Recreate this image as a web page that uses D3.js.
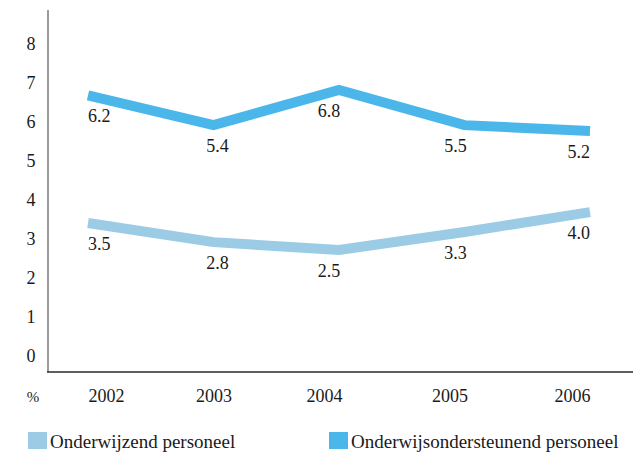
<!DOCTYPE html>
<html>
<head>
<meta charset="utf-8">
<script src="https://cdn.jsdelivr.net/npm/d3@7"></script>
<style>
  html, body { margin: 0; padding: 0; background: #fff; }
  svg { display: block; font-family: "Liberation Serif", "DejaVu Serif", serif; }
  .axis path, .axis line { display: none; }
  .axis text, .val { fill: #1a1a1a; font-size: 18px; font-family: "Liberation Serif", serif; }
</style>
</head>
<body>
<div class="chart"></div>
<script>
// data
const years = ["2002", "2003", "2004", "2005", "2006"];
const yTicks = [0, 1, 2, 3, 4, 5, 6, 7, 8];
// line heights as drawn in the picture
const onderwijzend = [3.41, 2.92, 2.72, 3.18, 3.69];
const ondersteunend = [6.68, 5.92, 6.82, 5.92, 5.77];
// numbers printed beside the points
const onderwijzendLabels = ["3.5", "2.8", "2.5", "3.3", "4.0"];
const ondersteunendLabels = ["6.2", "5.4", "6.8", "5.5", "5.2"];
const seriesNames = ["Onderwijzend personeel", "Onderwijsondersteunend personeel"];

const config = {
  w: 633, h: 454,
  axisX: 48, axisTop: 10, axisBottom: 372,
  left: 88, right: 590,
  y0: 356, y8: 44,
  lineW: 10,
  labelDy: 27,
  yearBase: 402
};
const colors = ["#9bcbe5", "#4ab6e9"];

const svg = d3.select('.chart').append('svg')
  .attr('width', config.w)
  .attr('height', config.h);

const x = d3.scalePoint().domain(years).range([config.left, config.right]);
const y = d3.scaleLinear().domain([0, 8]).range([config.y0, config.y8]);

const anchor = (d, i) => i === 0 ? 'start' : (i === years.length - 1 ? 'end' : 'middle');

// frame
svg.append('line')
  .attr('x1', config.axisX).attr('x2', config.axisX)
  .attr('y1', config.axisTop).attr('y2', config.axisBottom)
  .attr('stroke', '#9a9a9a').attr('stroke-width', 2);
svg.append('line')
  .attr('x1', config.axisX - 1).attr('x2', config.w)
  .attr('y1', config.axisBottom).attr('y2', config.axisBottom)
  .attr('stroke', '#2a2a2a').attr('stroke-width', 1.5);

// y axis labels
const yAxis = d3.axisLeft(y).tickValues(yTicks).tickSize(0).tickPadding(0);
svg.append('g')
  .attr('class', 'y axis')
  .attr('transform', 'translate(31,0)')
  .call(yAxis)
  .attr('font-family', null).attr('font-size', null)
  .call(g => g.selectAll('text').attr('text-anchor', 'middle').attr('x', 0).attr('dy', '0.33em'));

// x axis labels (the middle years sit a bit left of their points)
const yearShift = [0, 0, -15, -15, 0];
const xAxis = d3.axisBottom(x).tickSize(0).tickPadding(0);
svg.append('g')
  .attr('class', 'x axis')
  .attr('transform', `translate(0,${config.yearBase})`)
  .call(xAxis)
  .attr('font-family', null).attr('font-size', null)
  .call(g => g.selectAll('text').attr('y', 0).attr('dy', 0)
    .attr('dx', (d, i) => yearShift[i])
    .attr('text-anchor', anchor));

svg.append('text')
  .attr('class', 'val')
  .attr('x', 33).attr('y', config.yearBase)
  .attr('text-anchor', 'middle')
  .style('font-size', '15px')
  .text('%');

// lines
const line = d3.line()
  .x((d, i) => x(years[i]))
  .y(d => y(d));

[onderwijzend, ondersteunend].forEach((vals, k) => {
  svg.append('path')
    .datum(vals)
    .attr('fill', 'none')
    .attr('stroke', colors[k])
    .attr('stroke-width', config.lineW)
    .attr('stroke-linejoin', 'miter')
    .attr('stroke-linecap', 'butt')
    .attr('d', line);
});

// value labels
const labelShift = [0, 4, -10, -9, 0];
[[onderwijzend, onderwijzendLabels], [ondersteunend, ondersteunendLabels]].forEach(([vals, labs]) => {
  svg.append('g')
    .selectAll('text')
    .data(labs)
    .enter()
    .append('text')
    .attr('class', 'val')
    .attr('x', (d, i) => x(years[i]) + labelShift[i])
    .attr('y', (d, i) => y(vals[i]) + config.labelDy)
    .attr('text-anchor', anchor)
    .text(d => d);
});

// legend
const legendX = [28, 329];
const legend = svg.append('g').attr('class', 'legend');
seriesNames.forEach((name, k) => {
  legend.append('rect')
    .attr('x', legendX[k]).attr('y', 432)
    .attr('width', 19).attr('height', 17)
    .attr('fill', colors[k]);
  legend.append('text')
    .attr('x', legendX[k] + 22).attr('y', 448)
    .attr('fill', '#1a1a1a')
    .style('font-size', '19px')
    .text(name);
});
</script>
</body>
</html>
